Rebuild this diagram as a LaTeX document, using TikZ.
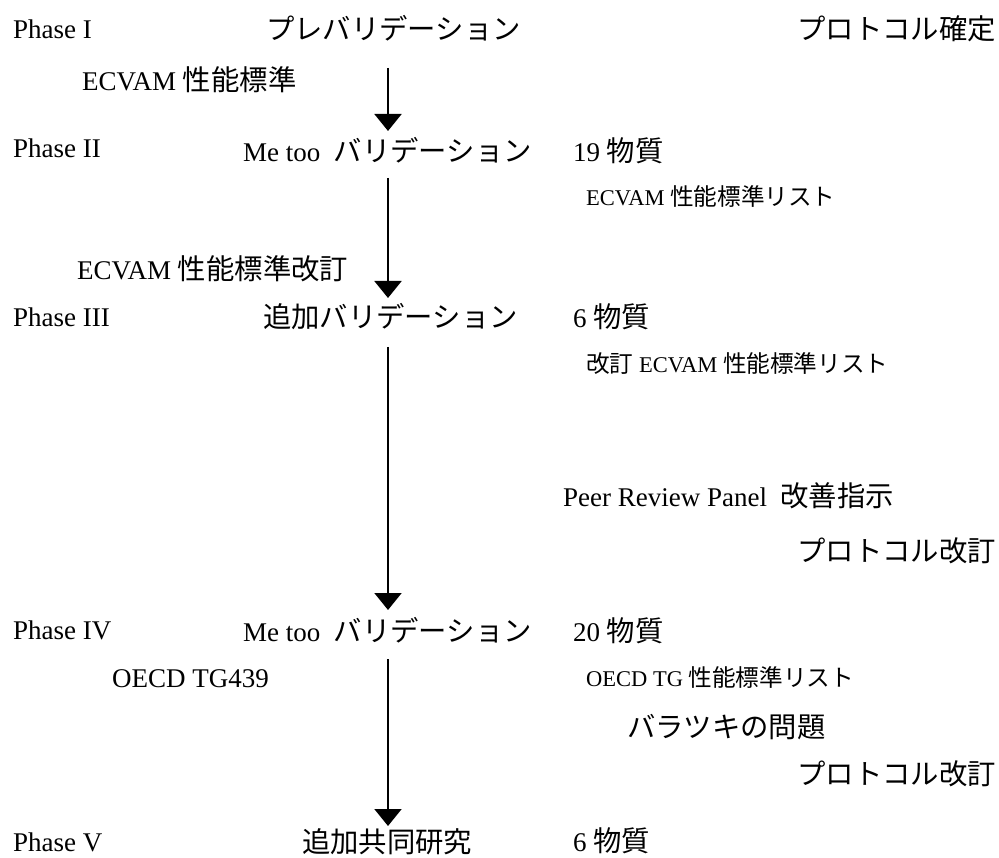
\documentclass[tikz,border=0pt]{standalone}
\usepackage{fontspec}
\setmainfont{Liberation Serif}
\newfontfamily\jp[Scale=1.05]{Noto Sans CJK JP}
\usetikzlibrary{arrows.meta}
\tikzset{
  big/.style={inner sep=0pt, anchor=base west, font=\fontsize{27}{30}\selectfont},
  bigr/.style={inner sep=0pt, anchor=base east, font=\fontsize{27}{30}\selectfont},
  small/.style={inner sep=0pt, anchor=base west, font=\fontsize{22.5}{25}\selectfont},
  flow/.style={line width=2pt, -{Triangle[width=27pt,length=17pt]}}
}
\begin{document}
\begin{tikzpicture}[x=1pt,y=-1pt]
\useasboundingbox (0,0) rectangle (999,858);
% Phase I
\node[big] (p1) at (13,39) {Phase I};
\node[big] (t1) at (266,40) {\jp プレバリデーション};
\node[bigr] (r1) at (996,40) {\jp プロトコル確定};
\node[big] (e1) at (82,91) {ECVAM {\jp 性能標準}};
% Phase II
\node[big] (p2) at (13,158) {Phase II};
\node[big] (t2) at (243,162) {Me too\ \ {\jp バリデーション}};
\node[big] (n2) at (573,162) {19 {\jp 物質}};
\node[small] (l2) at (586,206) {ECVAM {\jp 性能標準リスト}};
\node[big] (e2) at (77,280) {ECVAM {\jp 性能標準改訂}};
% Phase III
\node[big] (p3) at (13,327) {Phase III};
\node[big] (t3) at (263,328) {\jp 追加バリデーション};
\node[big] (n3) at (573,328) {6 {\jp 物質}};
\node[small] (l3) at (586,373) {{\jp 改訂} ECVAM {\jp 性能標準リスト}};
\node[big] (pr) at (563,506) {Peer Review Panel\ \ {\jp 改善指示}};
\node[bigr] (r3) at (996,561) {\jp プロトコル改訂};
% Phase IV
\node[big] (p4) at (13,639) {Phase IV};
\node[big] (t4) at (243,641) {Me too\ \ {\jp バリデーション}};
\node[big] (n4) at (573,641) {20 {\jp 物質}};
\node[big] (o4) at (112,687) {OECD TG439};
\node[small] (l4) at (586,686) {OECD TG {\jp 性能標準リスト}};
\node[big] (b4) at (627,737) {\jp バラツキの問題};
\node[bigr] (r4) at (996,784) {\jp プロトコル改訂};
% Phase V
\node[big] (p5) at (13,851) {Phase V};
\node[big] (t5) at (302,852) {\jp 追加共同研究};
\node[big] (n5) at (573,851) {6 {\jp 物質}};
% arrows
\coordinate (a1s) at (388,68);  \coordinate (a1e) at (388,131);
\coordinate (a2s) at (388,178); \coordinate (a2e) at (388,298);
\coordinate (a3s) at (388,347); \coordinate (a3e) at (388,610);
\coordinate (a4s) at (388,659); \coordinate (a4e) at (388,826);
\draw[flow] (a1s) -- (a1e);
\draw[flow] (a2s) -- (a2e);
\draw[flow] (a3s) -- (a3e);
\draw[flow] (a4s) -- (a4e);
\end{tikzpicture}
\end{document}
